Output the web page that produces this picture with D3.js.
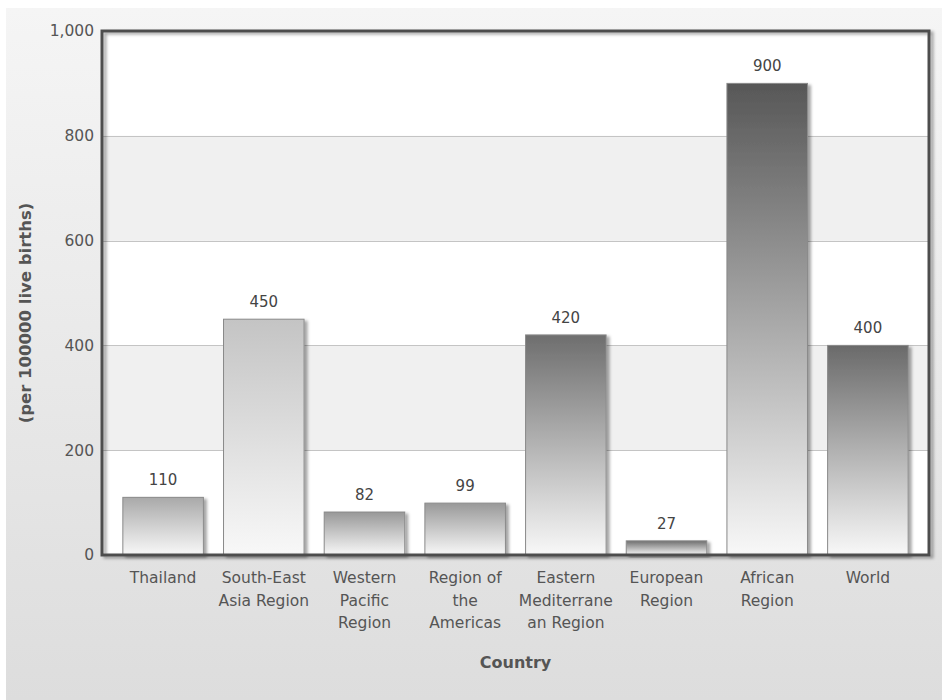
<!DOCTYPE html>
<html>
<head>
<meta charset="utf-8">
<script src="https://cdn.jsdelivr.net/npm/d3@7"></script>
<style>
  html, body { margin: 0; padding: 0; background: #ffffff; }
  svg { display: block; font-family: "DejaVu Sans", Verdana, sans-serif; }
</style>
</head>
<body>
<svg id="chart" width="942" height="700"></svg>
<script>
// Maternal mortality ratio by region
const categories = [
  "Thailand", "South-East Asia Region", "Western Pacific Region",
  "Region of the Americas", "Eastern Mediterranean Region",
  "European Region", "African Region", "World"
];
const categoryLabelLines = [
  ["Thailand"],
  ["South-East", "Asia Region"],
  ["Western", "Pacific", "Region"],
  ["Region of", "the", "Americas"],
  ["Eastern", "Mediterrane", "an Region"],
  ["European", "Region"],
  ["African", "Region"],
  ["World"]
];
const values = [110, 450, 82, 99, 420, 27, 900, 400];
const yTicks = [0, 200, 400, 600, 800, 1000];
const yTitle = "(per 100000 live births)";
const xTitle = "Country";

// top shade of each bar's vertical gradient
const barTopShades = ["#a9a9a9", "#c4c4c4", "#989898", "#999999",
                      "#6e6e6e", "#6f6f6f", "#575757", "#6a6a6a"];

const W = 942, H = 700;
const plot = { left: 102, right: 929, top: 31, bottom: 555 };

const svg = d3.select("#chart");
const defs = svg.append("defs");

// panel background gradient
const bgGrad = defs.append("linearGradient")
  .attr("id", "bgGrad").attr("x1", 0).attr("y1", 0).attr("x2", 0).attr("y2", 1);
bgGrad.append("stop").attr("offset", "0%").attr("stop-color", "#f5f5f5");
bgGrad.append("stop").attr("offset", "100%").attr("stop-color", "#dddddd");

// soft drop shadow for frame and bars
const shadow = defs.append("filter").attr("id", "shadow")
  .attr("x", "-10%").attr("y", "-10%").attr("width", "130%").attr("height", "130%");
shadow.append("feDropShadow")
  .attr("dx", 3).attr("dy", 2).attr("stdDeviation", 1.4)
  .attr("flood-color", "#000").attr("flood-opacity", 0.35);

barTopShades.forEach((c, i) => {
  const g = defs.append("linearGradient")
    .attr("id", "barGrad" + i).attr("x1", 0).attr("y1", 0).attr("x2", 0).attr("y2", 1);
  g.append("stop").attr("offset", "0%").attr("stop-color", c);
  g.append("stop").attr("offset", "100%").attr("stop-color", "#f8f8f8");
});

svg.append("rect")
  .attr("x", 6).attr("y", 8).attr("width", W - 6).attr("height", H - 8)
  .attr("fill", "url(#bgGrad)");

const y = d3.scaleLinear().domain([0, 1000]).range([plot.bottom, plot.top]);
const x = d3.scaleBand().domain(categories)
  .range([plot.left, plot.right])
  .paddingInner(0.2).paddingOuter(0.207);

// alternating horizontal bands
const bands = d3.pairs(yTicks);
svg.append("g").selectAll("rect").data(bands).join("rect")
  .attr("x", plot.left).attr("width", plot.right - plot.left)
  .attr("y", d => y(d[1])).attr("height", d => y(d[0]) - y(d[1]))
  .attr("fill", (d, i) => i % 2 === 1 ? "#f0f0f0" : "#ffffff");

// gridlines
svg.append("g").selectAll("line").data(yTicks.slice(1, -1)).join("line")
  .attr("x1", plot.left).attr("x2", plot.right)
  .attr("y1", d => Math.round(y(d)) + 0.5).attr("y2", d => Math.round(y(d)) + 0.5)
  .attr("stroke", "#c4c4c4").attr("stroke-width", 1);

// bars
svg.append("g").selectAll("rect").data(values).join("rect")
  .attr("x", (d, i) => x(categories[i]))
  .attr("width", x.bandwidth())
  .attr("y", d => y(d))
  .attr("height", d => y(0) - y(d))
  .attr("fill", (d, i) => "url(#barGrad" + i + ")")
  .attr("stroke", "#8a8a8a").attr("stroke-width", 1)
  .attr("filter", "url(#shadow)");

// value labels
svg.append("g").selectAll("text").data(values).join("text")
  .attr("x", (d, i) => x(categories[i]) + x.bandwidth() / 2)
  .attr("y", d => y(d) - 12)
  .attr("text-anchor", "middle")
  .attr("font-size", 15)
  .attr("fill", "#444")
  .text(d => d3.format(",")(d));

// plot frame
svg.append("rect")
  .attr("x", plot.left).attr("y", plot.top)
  .attr("width", plot.right - plot.left).attr("height", plot.bottom - plot.top)
  .attr("fill", "none").attr("stroke", "#4e4e4e").attr("stroke-width", 3)
  .attr("filter", "url(#shadow)");

// y axis
const yAxis = d3.axisLeft(y).tickValues(yTicks).tickFormat(d3.format(","))
  .tickSize(0).tickPadding(7);
const gy = svg.append("g").attr("transform", `translate(${plot.left - 1},0)`).call(yAxis);
gy.select(".domain").remove();
gy.selectAll("text")
  .attr("font-family", "DejaVu Sans, Verdana, sans-serif")
  .attr("font-size", 15.5).attr("fill", "#555");

// category labels
const xl = svg.append("g").selectAll("text").data(categories).join("text")
  .attr("x", d => x(d) + x.bandwidth() / 2)
  .attr("y", plot.bottom + 28)
  .attr("text-anchor", "middle")
  .attr("font-size", 15.5)
  .attr("fill", "#555");
xl.selectAll("tspan").data((d, i) => categoryLabelLines[i]).join("tspan")
  .attr("x", function () { return d3.select(this.parentNode).attr("x"); })
  .attr("dy", (d, j) => j === 0 ? 0 : 22.5)
  .text(d => d);

// axis titles
svg.append("text")
  .attr("x", (plot.left + plot.right) / 2).attr("y", 668)
  .attr("text-anchor", "middle").attr("font-weight", "bold")
  .attr("font-size", 16).attr("fill", "#555")
  .text(xTitle);

svg.append("text")
  .attr("transform", `translate(31,${(plot.top + plot.bottom) / 2 + 20}) rotate(-90)`)
  .attr("text-anchor", "middle").attr("font-weight", "bold")
  .attr("font-size", 16.5).attr("fill", "#555")
  .text(yTitle);
</script>
</body>
</html>
